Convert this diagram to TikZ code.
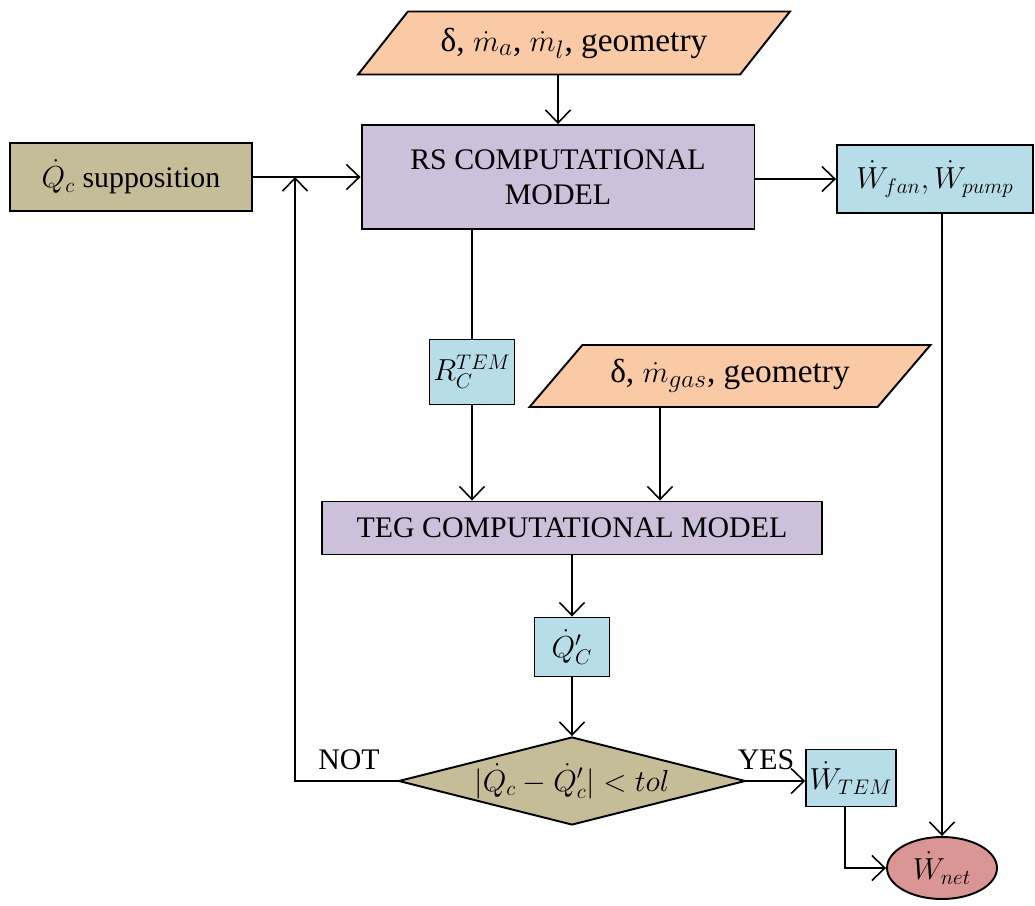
\documentclass[tikz,border=0pt]{standalone}
\usepackage{fontspec}
\setmainfont{Liberation Serif}
\usetikzlibrary{shapes.geometric,arrows.meta}
\definecolor{peach}{HTML}{FAC9A5}
\definecolor{lilac}{HTML}{CCC0DA}
\definecolor{lblue}{HTML}{B7DEE8}
\definecolor{tan}{HTML}{C4BD97}
\definecolor{rose}{HTML}{D99694}
\tikzset{
  base/.style={draw=black, line width=1.1pt, inner sep=2pt, font=\fontsize{17}{20}\selectfont, align=center},
  boxr/.style={base, rectangle},
  para/.style={base, trapezium, trapezium left angle=37, trapezium right angle=143, trapezium stretches body, fill=peach, font=\fontsize{19}{22}\selectfont},
  arr/.style={-{Straight Barb[length=2.6mm,width=5mm]}, line width=0.9pt},
  ln/.style={line width=0.9pt},
  lab/.style={font=\fontsize{17}{20}\selectfont}
}
\begin{document}
\begin{tikzpicture}[x=0.02cm,y=-0.02cm]
\useasboundingbox (0,0) rectangle (1035,906);
\node[para, minimum width=8.64cm, minimum height=1.26cm] (p1) at (574,43) {δ, $\dot m_a$, $\dot m_l$, geometry};
\node[boxr, fill=lilac, minimum width=7.86cm, minimum height=2.08cm] (rs) at (558,177) {RS COMPUTATIONAL\\MODEL};
\node[boxr, fill=tan, minimum width=4.84cm, minimum height=1.36cm] (qc) at (131,177) {$\dot Q_c$ supposition};
\node[boxr, fill=lblue, minimum width=3.92cm, minimum height=1.36cm] (wf) at (935,179) {$\dot W_{fan}, \dot W_{pump}$};
\node[boxr, fill=lblue, minimum width=1.7cm, minimum height=1.3cm] (r) at (472,372) {$R_C^{TEM}$};
\node[para, minimum width=8.02cm, minimum height=1.24cm] (p2) at (730,376) {δ, $\dot m_{gas}$, geometry};
\node[boxr, fill=lilac, minimum width=10cm, minimum height=1.06cm] (teg) at (572,528) {TEG COMPUTATIONAL MODEL};
\node[boxr, fill=lblue, minimum width=1.5cm, minimum height=1.18cm] (qp) at (572,647) {$\dot Q_C'$};
\node[base, diamond, aspect=3.94, fill=tan, minimum width=6.94cm, minimum height=1.76cm, inner sep=0pt] (dia) at (572,781) {$|\dot Q_c - \dot Q_c'| < tol$};
\node[boxr, fill=lblue, minimum width=1.74cm, minimum height=1.14cm] (wt) at (851,778) {$\dot W_{TEM}$};
\node[base, ellipse, fill=rose, minimum width=2.2cm, minimum height=1.24cm] (wn) at (942,868) {$\dot W_{net}$};
\coordinate (j) at (295,177);
\node[lab] (nl) at (349,760) {NOT};
\node[lab] (yl) at (766,760) {YES};
% connectors
\draw[arr] (p1.south -| rs.north) -- (rs.north);
\draw[arr] (qc.east) -- (qc.east -| rs.west);
\draw[arr] (dia.west) -- (dia.west -| j) -- (j);
\draw[arr] (rs.east |- wf.west) -- (wf.west);
\draw[ln] (r.north |- rs.south) -- (r.north);
\draw[arr] (r.south) -- (r.south |- teg.north);
\draw[arr] ([xshift=-1.4cm]p2.south) -- ([xshift=-1.4cm]p2.south |- teg.north);
\draw[arr] (teg.south) -- (qp.north);
\draw[arr] (qp.south) -- (dia.north);
\draw[arr] (dia.east) -- (dia.east -| wt.west);
\draw[arr] (wn.north |- wf.south) -- (wn.north);
\draw[arr] ([xshift=-0.12cm]wt.south) |- (wn.west);
\end{tikzpicture}
\end{document}
